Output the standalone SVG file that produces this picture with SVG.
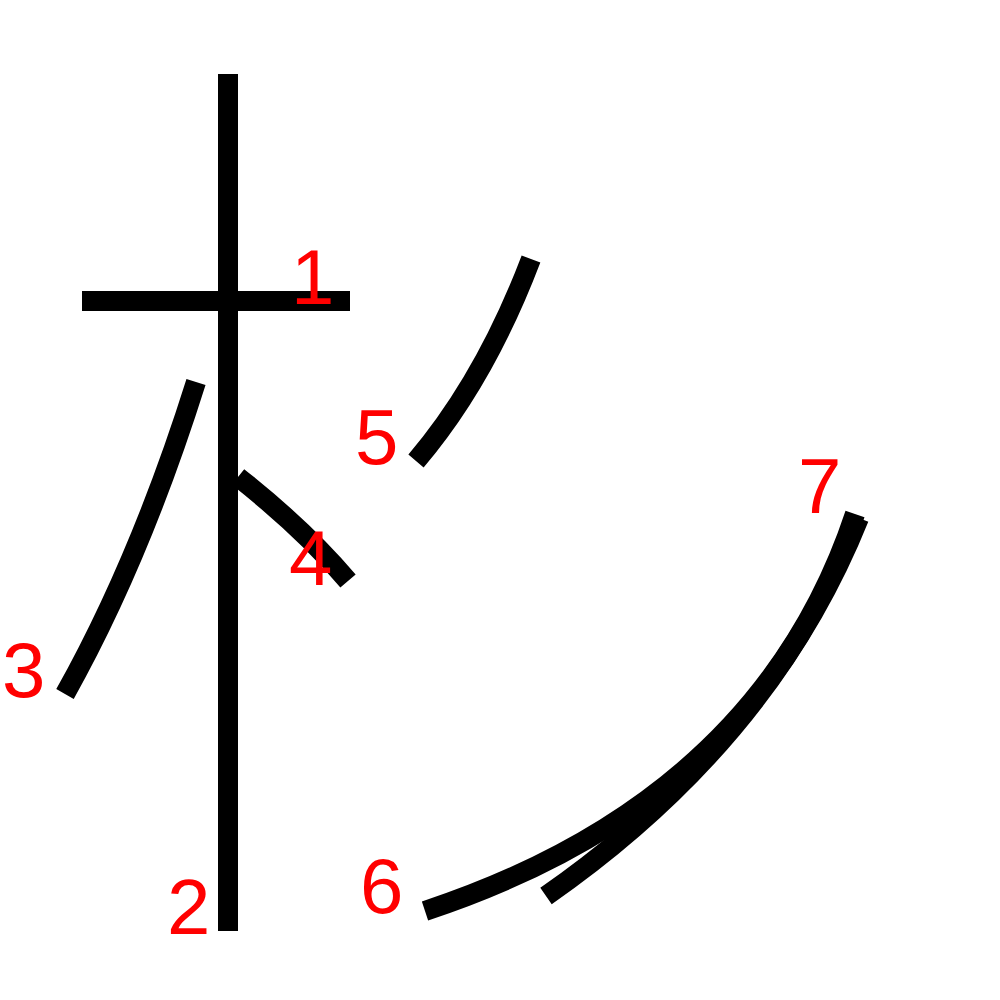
<svg xmlns="http://www.w3.org/2000/svg" width="1000" height="1000" viewBox="0 0 1000 1000">
<style>
.s{fill:none;stroke:#000;stroke-width:20;stroke-linecap:butt}
.n{fill:#f00;font-family:"Liberation Sans",Arial,sans-serif;font-size:78px}
</style>
<rect width="1000" height="1000" fill="#fff"/>
<g id="strokes">
<g id="s1"><path class="s" d="M82,301 L350,301"/></g>
<g id="s2"><path class="s" d="M228,74 L228,931"/></g>
<g id="s3"><path class="s" d="M196,382 Q140,560 65,694"/></g>
<g id="s4"><path class="s" d="M238,477 Q305,530 348,581"/></g>
<g id="s5"><path class="s" d="M531,259 Q485,380 416,461"/></g>
<g id="s6"><path class="s" d="M855,514 Q760,800 425,911"/></g>
<g id="s7"><path class="s" d="M859,518 Q770,740 546,896"/></g>
</g>
<g id="labels">
<text class="n" x="291" y="304">1</text>
<text class="n" x="167" y="934">2</text>
<text class="n" x="2" y="697">3</text>
<text class="n" x="289" y="585">4</text>
<text class="n" x="355" y="464">5</text>
<text class="n" x="360" y="913">6</text>
<text class="n" x="798" y="513">7</text>
</g>
</svg>
